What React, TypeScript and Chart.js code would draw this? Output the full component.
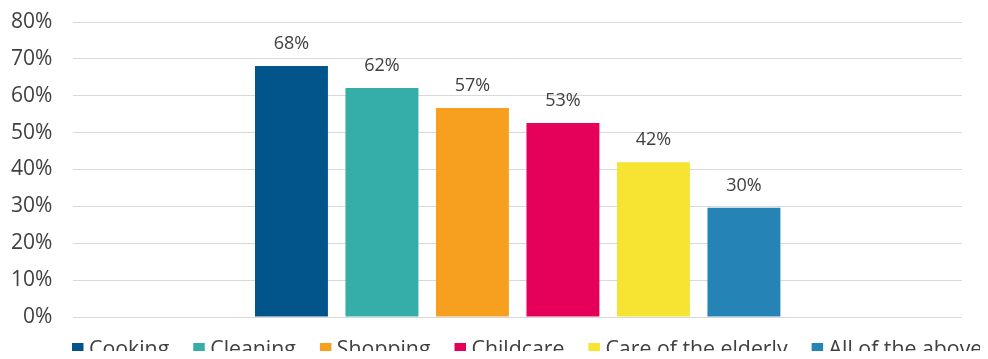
import React, { useEffect, useRef } from "react";
import { Chart, registerables } from "chart.js";

Chart.register(...registerables);

const categories: string[] = [""];
const seriesNames: string[] = [
  "Cooking",
  "Cleaning",
  "Shopping",
  "Childcare",
  "Care of the elderly",
  "All of the above",
];
const seriesValues: number[] = [68.1, 62.1, 56.7, 52.6, 42.0, 29.6];
const seriesColors: string[] = [
  "#02558A",
  "#35ADA9",
  "#F7A01F",
  "#E5005A",
  "#F7E332",
  "#2683B6",
];
const yTicks: number[] = [0, 10, 20, 30, 40, 50, 60, 70, 80];

const FONT = "'Open Sans', 'Noto Sans', sans-serif";
const TEXT = "#404040";

const dataLabelPlugin = {
  id: "dataLabels",
  afterDatasetsDraw(chart: any) {
    const ctx = chart.ctx;
    ctx.save();
    ctx.font = `18px ${FONT}`;
    ctx.fillStyle = TEXT;
    ctx.textAlign = "center";
    ctx.textBaseline = "middle";
    chart.data.datasets.forEach((ds: any, i: number) => {
      const meta = chart.getDatasetMeta(i);
      meta.data.forEach((bar: any, j: number) => {
        const v = ds.data[j];
        ctx.fillText(Math.round(v) + "%", bar.x, bar.y - 22);
      });
    });
    ctx.restore();
  },
};

const legendPlugin = {
  id: "customLegend",
  afterDraw(chart: any) {
    const ctx = chart.ctx;
    ctx.save();
    ctx.font = `21.3px ${FONT}`;
    ctx.textBaseline = "alphabetic";
    ctx.textAlign = "left";
    const box = 11.5;
    const gapBox = 5.5;
    const gapItem = 24;
    let x = 64;
    const boxTop = 343;
    const baseline = 356;
    chart.data.datasets.forEach((ds: any) => {
      ctx.fillStyle = ds.backgroundColor;
      ctx.fillRect(x, boxTop, box, box);
      x += box + gapBox;
      ctx.fillStyle = TEXT;
      ctx.fillText(ds.label, x, baseline);
      x += ctx.measureText(ds.label).width + gapItem;
    });
    ctx.restore();
  },
};

export default function App() {
  const canvasRef = useRef<HTMLCanvasElement | null>(null);

  useEffect(() => {
    document.documentElement.style.overflow = "hidden";
    document.body.style.overflow = "hidden";
    if (!canvasRef.current) return;
    const chart = new Chart(canvasRef.current, {
      type: "bar",
      data: {
        labels: categories,
        datasets: seriesNames.map((name, i) => ({
          label: name,
          data: [seriesValues[i]],
          backgroundColor: seriesColors[i],
          categoryPercentage: 0.611,
          barPercentage: 0.806,
        })),
      },
      options: {
        animation: false,
        responsive: true,
        maintainAspectRatio: false,
        layout: { padding: { left: 3, right: 18, top: 22, bottom: 42 } },
        plugins: {
          legend: { display: false },
          tooltip: { enabled: false },
        },
        scales: {
          x: { display: false },
          y: {
            min: 0,
            max: 80,
            afterBuildTicks: (axis: any) => {
              axis.ticks = yTicks.map((v) => ({ value: v }));
            },
            border: { display: false },
            grid: {
              color: "#d9d9d9",
              lineWidth: 1,
              drawTicks: true,
              tickLength: 21,
              tickColor: "rgba(0,0,0,0)",
            },
            ticks: {
              padding: 0,
              color: TEXT,
              font: { family: FONT, size: 21 },
              callback: (v: any) => v + "%",
            },
          },
        },
      },
      plugins: [dataLabelPlugin, legendPlugin],
    });
    return () => chart.destroy();
  }, []);

  return (
    <div
      style={{
        width: 972,
        height: 359,
        marginTop: -8,
        marginBottom: -8,
        position: "relative",
        overflow: "hidden",
      }}
    >
      <canvas ref={canvasRef} />
    </div>
  );
}
